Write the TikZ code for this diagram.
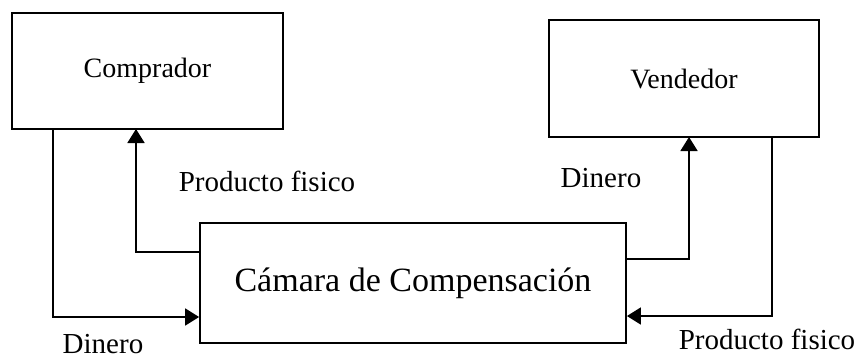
\documentclass[tikz,border=0pt]{standalone}
\usepackage{fontspec}
\setmainfont{Liberation Serif}
\usetikzlibrary{arrows.meta}
\begin{document}
\begin{tikzpicture}[x=1pt,y=-1pt,
  box/.style={draw, line width=1.8pt, inner sep=0pt, minimum width=#1, font=\fontsize{28}{30}\selectfont},
  lbl/.style={font=\fontsize{29}{30}\selectfont, inner sep=0pt},
  conn/.style={line width=1.8pt},
  arr/.style={conn, -{Triangle[length=14pt,width=17pt]}}]
\useasboundingbox (0,0) rectangle (859,360);
\node[box=271pt, minimum height=116pt] (comp) at (147.5,71) {Comprador};
\node[box=270pt, minimum height=117pt] (vend) at (684,78.5) {Vendedor};
\node[box=426pt, minimum height=120pt, font=\fontsize{34}{36}\selectfont] (cam) at (413,283) {Cámara de Compensación};
% left side
\coordinate (c1) at (53,129);
\coordinate (c2) at (53,317);
\coordinate (c3) at (cam.west |- c2);
\draw[arr] (c1) -- (c2) -- (c3);
\coordinate (p1) at (136,252);
\coordinate (p0) at (cam.west |- p1);
\coordinate (p2) at (136,129);
\draw[arr] (p0) -- (p1) -- (p2);
% right side
\coordinate (d1) at (689,259);
\coordinate (d0) at (cam.east |- d1);
\coordinate (d2) at (689,137);
\draw[arr] (d0) -- (d1) -- (d2);
\coordinate (f1) at (772,137);
\coordinate (f2) at (772,316);
\coordinate (f3) at (cam.east |- f2);
\draw[arr] (f1) -- (f2) -- (f3);
% labels
\node[lbl] (lpf1) at (267,181) {Producto fisico};
\node[lbl] (ld1) at (601,178) {Dinero};
\node[lbl] (ld2) at (103,344) {Dinero};
\node[lbl] (lpf2) at (767,339) {Producto fisico};
\end{tikzpicture}
\end{document}
